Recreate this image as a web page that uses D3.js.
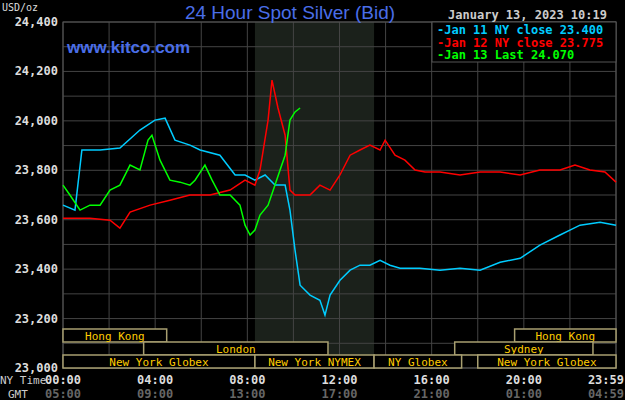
<!DOCTYPE html>
<html>
<head>
<script src="https://d3js.org/d3.v7.min.js"></script>
<style>
  body { margin: 0; background: #000; }
  text { font-family: "DejaVu Sans Mono", monospace; }
</style>
</head>
<body>
<svg width="625" height="400"></svg>
<script>
// hours after 00:00 NY time
var cyanH = [0,0.52,0.82,1.61,2.47,3.34,3.99,4.43,4.86,5.51,5.95,6.81,7.47,7.9,8.33,8.77,9.2,9.64,9.85,10.07,10.29,10.72,11.15,11.37,11.59,12.02,12.46,12.89,13.32,13.76,14.19,14.63,15.49,16.36,17.23,18.1,18.97,19.84,20.7,21.57,22.0,22.44,23.31,24];
var cyanP = [23.659,23.639,23.882,23.882,23.890,23.963,24.003,24.011,23.922,23.902,23.882,23.861,23.781,23.781,23.760,23.781,23.740,23.740,23.639,23.477,23.335,23.295,23.274,23.214,23.295,23.355,23.396,23.416,23.416,23.436,23.416,23.404,23.404,23.396,23.404,23.396,23.428,23.444,23.497,23.538,23.558,23.578,23.590,23.578];
var redH = [0,1.17,2.04,2.47,2.91,3.78,4.64,5.51,6.38,7.25,7.9,8.33,8.55,8.9,9.07,9.33,9.64,9.85,10.07,10.72,11.15,11.59,12.02,12.46,12.89,13.32,13.76,13.98,14.41,14.84,15.28,15.71,16.36,17.23,18.1,18.97,19.84,20.7,21.57,22.22,22.87,23.52,24];
var redP = [23.606,23.606,23.598,23.566,23.631,23.659,23.679,23.700,23.700,23.720,23.760,23.740,23.801,24.003,24.165,24.052,23.942,23.720,23.700,23.700,23.740,23.720,23.781,23.861,23.882,23.902,23.882,23.922,23.861,23.841,23.801,23.793,23.793,23.781,23.793,23.793,23.781,23.801,23.801,23.821,23.801,23.793,23.752];
var greenH = [0,0.3,0.74,1.17,1.61,2.04,2.47,2.91,3.34,3.69,3.86,4.21,4.64,5.08,5.51,5.73,6.16,6.47,6.81,7.25,7.68,7.9,8.12,8.33,8.55,8.9,9.2,9.42,9.64,9.85,10.07,10.29];
var greenP = [23.740,23.700,23.639,23.659,23.659,23.720,23.740,23.821,23.801,23.922,23.942,23.841,23.760,23.752,23.740,23.760,23.821,23.760,23.700,23.700,23.659,23.578,23.538,23.558,23.619,23.659,23.740,23.801,23.861,24.003,24.036,24.052];
var yTicks = [23.0,23.2,23.4,23.6,23.8,24.0,24.2,24.4];
var xTicks = [0,4,8,12,16,20,23.983];
var nyLabels = ["00:00","04:00","08:00","12:00","16:00","20:00","23:59"];
var gmtLabels = ["05:00","09:00","13:00","17:00","21:00","01:00","04:59"];
// sessions: [start, end, row, name]
var sessions = [[0,4.5,0,"Hong Kong"],[19.6,24,0,"Hong Kong"],[3.5,11.5,1,"London"],[17,23,1,"Sydney"],
  [0,8.33,2,"New York Globex"],[8.33,13.5,2,"New York NYMEX"],[13.5,17.3,2,"NY Globex"],[18,24,2,"New York Globex"]];
var legend = [["Jan 11 NY close 23.400","#00ccff"],["Jan 12 NY close 23.775","#ff0000"],["Jan 13 Last 24.070","#00ff00"]];

var svg = d3.select("svg");
var L = 63, R = 616, T = 22, B = 368;
var x = d3.scaleLinear().domain([0,24]).range([L,R]);
var y = d3.scaleLinear().domain([23.0,24.4]).range([B,T]);

svg.append("rect").attr("x",x(8.33)).attr("y",T).attr("width",x(13.5)-x(8.33)).attr("height",B-T).attr("fill","#1b211b");

// grid
svg.selectAll(".vg").data(d3.range(0,25,2)).enter().append("line")
  .attr("x1",d=>x(d)).attr("x2",d=>x(d)).attr("y1",T).attr("y2",B).attr("stroke","#444");
svg.selectAll(".hg").data(d3.range(23.0,24.41,0.1)).enter().append("line")
  .attr("x1",L).attr("x2",R).attr("y1",d=>y(d)).attr("y2",d=>y(d)).attr("stroke","#444");
svg.append("rect").attr("x",L).attr("y",T).attr("width",R-L).attr("height",B-T).attr("fill","none").attr("stroke","#555");

// y labels
svg.selectAll(".yl").data(yTicks).enter().append("text")
  .attr("x",L-5).attr("y",d=>y(d)+4).attr("text-anchor","end").attr("fill","#ddd")
  .attr("font-size",12).attr("font-weight","bold").text(d=>d3.format(",.3f")(d).replace(".",","));
svg.append("text").attr("x",2).attr("y",11).attr("fill","#ddd").attr("font-size",10).text("USD/oz");

// sessions
var rowH = 13;
sessions.forEach(function(s){
  var yy = B - (3 - s[2]) * rowH;
  svg.append("rect").attr("x",x(s[0])).attr("y",yy).attr("width",x(s[1])-x(s[0])).attr("height",rowH)
    .attr("fill","#000").attr("stroke","#a89f70").attr("stroke-width",1.5);
  svg.append("text").attr("x",(x(s[0])+x(s[1]))/2).attr("y",yy+11).attr("text-anchor","middle")
    .attr("fill","#ffcc00").attr("font-size",11).text(s[3]);
});

// lines
var line = d3.line().x(d=>x(d[0])).y(d=>y(d[1]));
[[cyanH,cyanP,"#00ccff"],[redH,redP,"#ff0000"],[greenH,greenP,"#00ff00"]].forEach(function(s){
  svg.append("path").datum(d3.zip(s[0],s[1])).attr("d",line).attr("fill","none")
    .attr("stroke",s[2]).attr("stroke-width",1.5);
});

// x labels
var last = xTicks.length - 1;
svg.selectAll(".xl").data(xTicks).enter().append("text")
  .attr("x",(d,i)=>i==last?624:x(d)).attr("y",384).attr("text-anchor",(d,i)=>i==last?"end":"middle").attr("fill","#ddd")
  .attr("font-size",12).attr("font-weight","bold").text((d,i)=>nyLabels[i]);
svg.selectAll(".gl").data(xTicks).enter().append("text")
  .attr("x",(d,i)=>i==last?624:x(d)).attr("y",398).attr("text-anchor",(d,i)=>i==last?"end":"middle").attr("fill","#666")
  .attr("font-size",12).attr("font-weight","bold").text((d,i)=>gmtLabels[i]);
svg.append("text").attr("x",0).attr("y",384).attr("fill","#ccc").attr("font-size",11).text("NY Time");
svg.append("text").attr("x",8).attr("y",398).attr("fill","#ccc").attr("font-size",11).text("GMT");

// legend
svg.append("rect").attr("x",432).attr("y",22).attr("width",184).attr("height",40).attr("fill","#000").attr("stroke","#555");
legend.forEach(function(l,i){
  svg.append("text").attr("x",437).attr("y",34+i*12.5).attr("fill",l[1]).attr("font-size",12)
    .attr("font-weight","bold").text("-" + l[0]);
});

// titles
svg.append("text").attr("x",290).attr("y",19).attr("text-anchor","middle").attr("fill","#4a6ee8")
  .attr("font-size",19).style("font-family","Liberation Sans, Arial").text("24 Hour Spot Silver (Bid)");
svg.append("text").attr("x",607).attr("y",19).attr("text-anchor","end").attr("fill","#ccc")
  .attr("font-size",12).attr("font-weight","bold").text("January 13, 2023 10:19");
svg.append("text").attr("x",67).attr("y",53).attr("fill","#4a6ee8").attr("font-size",17)
  .attr("font-weight","bold").style("font-family","Liberation Sans, Arial").text("www.kitco.com");
</script>
</body>
</html>
